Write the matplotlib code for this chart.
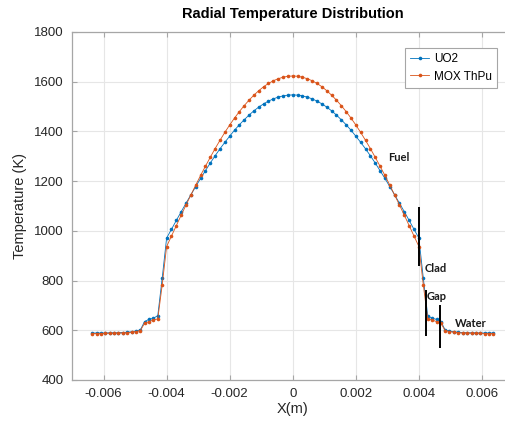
import numpy as np
import matplotlib
matplotlib.use("Agg")
from matplotlib import pyplot as plt

# radial nodes (mm), left water -> gap -> clad -> fuel -> clad -> gap -> water
x_mm = [-6.36, -6.22, -6.09, -5.95, -5.81, -5.67, -5.53, -5.39, -5.25, -5.11, -4.97, -4.83,
        -4.70, -4.56, -4.42, -4.28,
        -4.14,
        -4.000, -3.846, -3.692, -3.538, -3.385, -3.231, -3.077, -2.923, -2.769, -2.615,
        -2.462, -2.308, -2.154, -2.000, -1.846, -1.692, -1.538, -1.385, -1.231, -1.077,
        -0.923, -0.769, -0.615, -0.462, -0.308, -0.154, 0.000,
        0.154, 0.308, 0.462, 0.615, 0.769, 0.923, 1.077, 1.231, 1.385, 1.538, 1.692, 1.846,
        2.000, 2.154, 2.308, 2.462, 2.615, 2.769, 2.923, 3.077, 3.231, 3.385, 3.538, 3.692,
        3.846, 4.000,
        4.14,
        4.28, 4.42, 4.56, 4.70,
        4.83, 4.97, 5.11, 5.25, 5.39, 5.53, 5.67, 5.81, 5.95, 6.09, 6.22, 6.36]

t_uo2 = [589, 589, 589, 589, 590, 590, 590, 591, 592, 594, 597, 602,
         635, 644, 648, 659,
         810,
         971, 1006, 1042, 1077, 1111, 1145, 1178, 1211, 1242, 1273, 1302, 1330, 1356,
         1381, 1405, 1427, 1447, 1466, 1483, 1498, 1511, 1522, 1531, 1538, 1543, 1546, 1547,
         1546, 1543, 1538, 1531, 1522, 1511, 1498, 1483, 1466, 1447, 1427, 1405, 1381,
         1356, 1330, 1302, 1273, 1242, 1211, 1178, 1145, 1111, 1077, 1042, 1006, 971,
         810,
         659, 648, 644, 635,
         602, 597, 594, 592, 591, 590, 590, 590, 589, 589, 589, 589]

t_mox = [587, 587, 587, 588, 588, 588, 589, 589, 590, 592, 595, 599,
         628, 635, 641, 646,
         782,
         937, 979, 1021, 1063, 1104, 1144, 1184, 1223, 1260, 1296, 1331, 1364, 1396,
         1426, 1454, 1480, 1504, 1526, 1546, 1564, 1580, 1593, 1604, 1612, 1618, 1622, 1623,
         1622, 1618, 1612, 1604, 1593, 1580, 1564, 1546, 1526, 1504, 1480, 1454, 1426,
         1396, 1364, 1331, 1296, 1260, 1223, 1184, 1144, 1104, 1063, 1021, 979, 937,
         782,
         646, 641, 635, 628,
         599, 595, 592, 590, 589, 589, 588, 588, 588, 587, 587, 587]

series_names = ["UO2", "MOX ThPu"]

# region boundary markers (mm, K)
bound_x_mm = [4.00, 4.22, 4.67]
bound_lo = [859, 577, 529]
bound_hi = [1096, 762, 702]

x_ticks = [-0.006, -0.004, -0.002, 0, 0.002, 0.004, 0.006]
x_ticklabels = ["-0.006", "-0.004", "-0.002", "0", "0.002", "0.004", "0.006"]
y_ticks = [400, 600, 800, 1000, 1200, 1400, 1600, 1800]

x = np.array(x_mm) / 1000.0

plt.rcParams["font.family"] = ["Liberation Sans", "DejaVu Sans"]

fig = plt.figure(figsize=(5.06, 4.21), dpi=100)
ax = fig.add_axes([0.1423, 0.0974, 0.8725, 0.8266])

blue = "#0072BD"
orange = "#D95319"
ax.plot(x, t_uo2, color=blue, lw=0.6, marker="o", ms=2.6, mew=0, label=series_names[0])
ax.plot(x, t_mox, color=orange, lw=0.6, marker="o", ms=2.6, mew=0, label=series_names[1])

ax.vlines(np.array(bound_x_mm) / 1000.0, bound_lo, bound_hi, colors="black", lw=1.4)

lab_font = dict(family=["Lato", "DejaVu Sans"], fontweight="bold", fontsize=8,
                ha="center", va="center_baseline", color="#1a1a1a")
ax.text(0.003365, 1301, "Fuel", **lab_font)
ax.text(0.00455, 853, "Clad", **lab_font)
ax.text(0.00457, 738, "Gap", **lab_font)
ax.text(0.00564, 631, "Water", **lab_font)

ax.set_xlim(-0.007, 0.007)
ax.set_ylim(400, 1800)
ax.set_xticks(x_ticks)
ax.set_xticklabels(x_ticklabels)
ax.set_yticks(y_ticks)
ax.grid(True, color="#e6e6e6", lw=0.8)
ax.set_axisbelow(True)

for s in ax.spines.values():
    s.set_color("#a6a6a6")
    s.set_linewidth(0.9)
ax.tick_params(direction="in", top=True, right=True, length=3.5, width=0.8,
               color="#a6a6a6", labelcolor="#262626", labelsize=9.5, pad=6)

ax.set_xlabel("X(m)", fontsize=10.5, color="#262626", labelpad=1)
ax.set_ylabel("Temperature (K)", fontsize=10.5, color="#262626", labelpad=5)
ax.set_title("Radial Temperature Distribution", fontsize=10.5, fontweight="bold", pad=10)

leg = ax.legend(loc="upper right", bbox_to_anchor=(503 / 506, 1 - 42 / 421),
                bbox_transform=fig.transFigure, fontsize=8.5, handlelength=1.6,
                handletextpad=0.4, borderpad=0.45, labelspacing=0.45, fancybox=False,
                framealpha=1)
leg.get_frame().set_edgecolor("#a6a6a6")
leg.get_frame().set_linewidth(0.8)

fig.savefig("out.png", dpi=100)
